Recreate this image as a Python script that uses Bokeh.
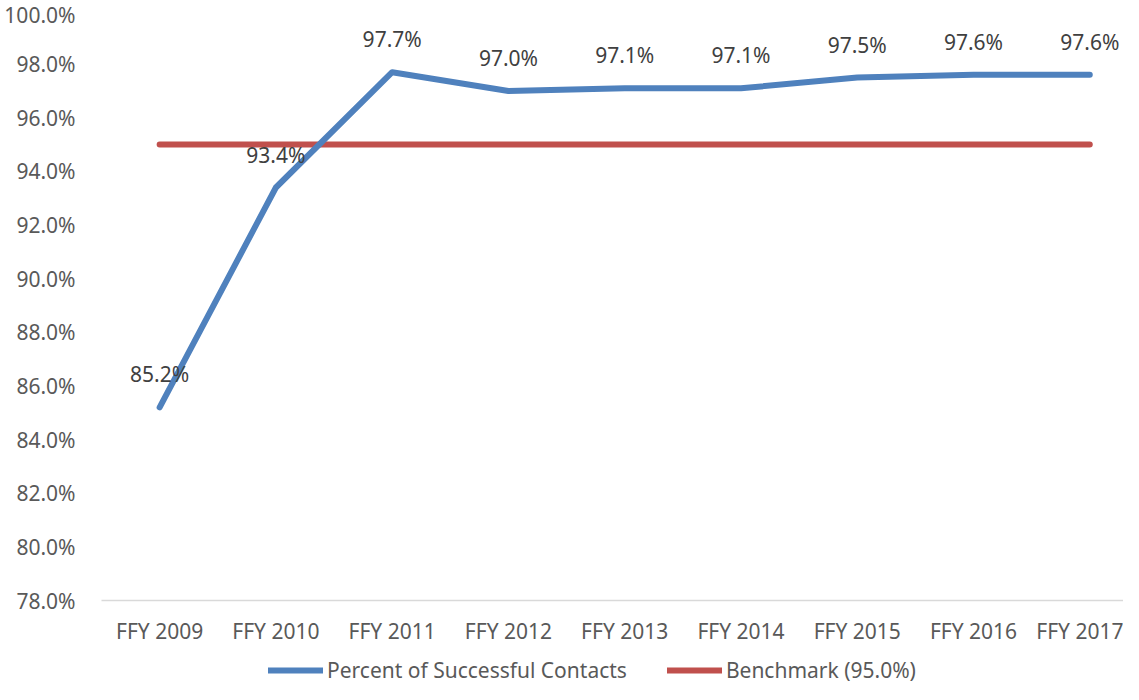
from bokeh.plotting import figure
from bokeh.layouts import column
from bokeh.models import FixedTicker, PrintfTickFormatter, Legend, LegendItem, ColumnDataSource, Range1d
from bokeh.core.properties import value
from bokeh.embed import file_html
from bokeh.resources import INLINE

categories = ["FFY 2009", "FFY 2010", "FFY 2011", "FFY 2012", "FFY 2013",
              "FFY 2014", "FFY 2015", "FFY 2016", "FFY 2017"]
successful = [85.2, 93.4, 97.7, 97.0, 97.1, 97.1, 97.5, 97.6, 97.6]
benchmark = [95.0] * len(categories)
y_ticks = [78, 80, 82, 84, 86, 88, 90, 92, 94, 96, 98, 100]
series_names = ["Percent of Successful Contacts", "Benchmark (95.0%)"]

FONT = "Noto Sans"
FS = "21px"
BLUE = "#4F81BD"
RED = "#C0504D"

xs = list(range(len(categories)))
src = ColumnDataSource(dict(x=xs, s=successful, b=benchmark,
                            lab=[f"{v:.1f}%" for v in successful]))

p = figure(width=1123, height=655, output_backend="svg", toolbar_location=None,
           x_range=Range1d(-0.5, 8.29),
           y_range=Range1d(78, 100),
           min_border_left=101, min_border_right=0, min_border_top=10, min_border_bottom=55)
p.outline_line_color = None
p.xgrid.visible = False
p.ygrid.visible = False

p.line("x", "b", source=src, line_color=RED, line_width=6, line_cap="round")
p.line("x", "s", source=src, line_color=BLUE, line_width=6, line_cap="round", line_join="round")
p.text("x", "s", text="lab", source=src, y_offset=-33, text_align="center",
       text_baseline="middle", text_font=value(FONT), text_font_size=FS,
       text_color="#404040")

p.xaxis.ticker = FixedTicker(ticks=xs)
p.xaxis.major_label_overrides = {i: c for i, c in enumerate(categories)}
p.xaxis.axis_line_color = "#D9D9D9"
p.xaxis.axis_line_width = 1.5
p.xaxis.major_tick_line_color = None
p.xaxis.minor_tick_line_color = None
p.xaxis.major_label_text_font = FONT
p.xaxis.major_label_text_font_size = FS
p.xaxis.major_label_text_color = "#595959"
p.xaxis.major_label_standoff = 10

p.yaxis.ticker = FixedTicker(ticks=y_ticks)
p.yaxis.formatter = PrintfTickFormatter(format="%.1f%%")
p.yaxis.axis_line_color = None
p.yaxis.major_tick_line_color = None
p.yaxis.minor_tick_line_color = None
p.yaxis.major_label_text_font = FONT
p.yaxis.major_label_text_font_size = FS
p.yaxis.major_label_text_color = "#595959"
p.yaxis.major_label_standoff = 20

# legend strip below the chart (its lines lie outside its own view range)
lg = figure(width=1123, height=29, output_backend="svg", toolbar_location=None,
            x_range=Range1d(100, 101), y_range=Range1d(0, 1),
            x_axis_location=None, y_axis_location=None,
            min_border_left=0, min_border_right=0, min_border_top=0, min_border_bottom=0)
lg.outline_line_color = None
lg.grid.visible = False
l1 = lg.line("x", "s", source=src, line_color=BLUE, line_width=6, line_cap="round")
l2 = lg.line("x", "b", source=src, line_color=RED, line_width=6, line_cap="round")
legend = Legend(items=[LegendItem(label=series_names[0], renderers=[l1]),
                       LegendItem(label=series_names[1], renderers=[l2])],
                orientation="horizontal", location=(167, 0),
                label_text_font=FONT, label_text_font_size=FS, label_text_color="#595959",
                glyph_width=55, glyph_height=20, spacing=40, label_standoff=4,
                padding=0, margin=0,
                border_line_color=None, background_fill_alpha=0)
lg.add_layout(legend)

open("out.html", "w").write(file_html(column(p, lg, spacing=0), INLINE))
